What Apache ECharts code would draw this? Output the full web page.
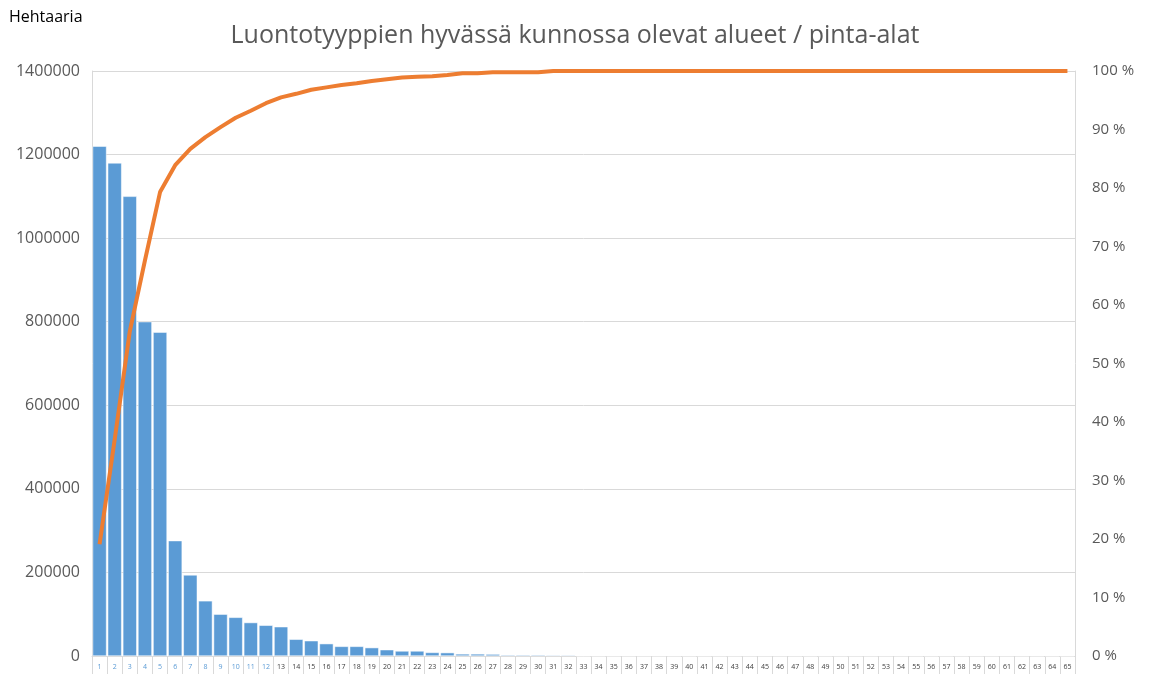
<!DOCTYPE html>
<html>
<head>
<meta charset="utf-8">
<script src="https://cdn.jsdelivr.net/npm/echarts@6/dist/echarts.min.js"></script>
<style>
  html, body { margin: 0; padding: 0; background: #fff; }
  #chart { width: 1150px; height: 675px; }
</style>
</head>
<body>
<div id="chart"></div>
<script>
// luontotyypit 1..65
var categories = []
for (var i = 1; i <= 65; i++) categories.push(String(i))

// pinta-ala hehtaareina (luettu kuvasta)
var areas = [
  1220000, 1180000, 1100000, 800000, 775000, 276000, 194000, 132000, 100000, 92500,
  80000, 73500, 70000, 40000, 36500, 29500, 23000, 23000, 20000, 15000,
  12000, 12000, 8500, 8000, 5000, 5000, 4500, 2500, 2500, 2500,
  2000, 2000, 0, 0, 0, 0, 0, 0, 0, 0,
  0, 0, 0, 0, 0, 0, 0, 0, 0, 0,
  0, 0, 0, 0, 0, 0, 0, 0, 0, 0,
  0, 0, 0, 0, 0
]

// kertymä prosentteina (luettu kuvasta)
var cumulative = [
  19.1, 37.0, 55.5, 67.6, 79.3, 83.9, 86.7, 88.7, 90.4, 92.0,
  93.2, 94.5, 95.5, 96.1, 96.8, 97.2, 97.6, 97.9, 98.3, 98.6,
  98.9, 99.0, 99.1, 99.3, 99.6, 99.6, 99.8, 99.8, 99.8, 99.8,
  100, 100, 100, 100, 100, 100, 100, 100, 100, 100,
  100, 100, 100, 100, 100, 100, 100, 100, 100, 100,
  100, 100, 100, 100, 100, 100, 100, 100, 100, 100,
  100, 100, 100, 100, 100
]

var leftTicks = { min: 0, max: 1400000, interval: 200000 }
var rightTicks = { min: 0, max: 100, interval: 10 }

var myChart = echarts.init(document.getElementById('chart'))
var option = {
  animation: false,
  title: {
    text: 'Luontotyyppien hyvässä kunnossa olevat alueet / pinta-alat',
    left: 'center',
    top: 18,
    textStyle: { fontFamily: 'Open Sans', fontWeight: 'normal', fontSize: 25, color: '#595959' }
  },
  graphic: [{
    type: 'text',
    left: 9,
    top: 9,
    style: { text: 'Hehtaaria', font: '16px "Open Sans"', fill: '#000' }
  }],
  grid: { left: 92, right: 75, top: 71, bottom: 19 },
  xAxis: {
    type: 'category',
    data: categories,
    axisLine: { lineStyle: { color: '#d9d9d9' } },
    axisTick: { show: true, length: 18, alignWithLabel: false, lineStyle: { color: '#d9d9d9' } },
    axisLabel: {
      interval: 0,
      fontSize: 7,
      fontFamily: 'Open Sans',
      margin: 7,
      color: function (value, index) { return index < 12 ? '#5b9bd5' : '#404040' }
    }
  },
  yAxis: [{
    type: 'value',
    min: leftTicks.min,
    max: leftTicks.max,
    interval: leftTicks.interval,
    axisLine: { show: true, lineStyle: { color: '#d9d9d9' } },
    axisLabel: {
      fontFamily: 'Open Sans', fontSize: 16, color: '#595959', margin: 12,
      formatter: function (v) { return String(v) }
    },
    splitLine: { lineStyle: { color: '#d9d9d9' } }
  }, {
    type: 'value',
    min: rightTicks.min,
    max: rightTicks.max,
    interval: rightTicks.interval,
    axisLine: { show: true, lineStyle: { color: '#d9d9d9' } },
    axisLabel: { fontFamily: 'Open Sans', fontSize: 15, color: '#595959', margin: 17, formatter: '{value} %' },
    splitLine: { show: false }
  }],
  series: [{
    name: 'Pinta-ala',
    type: 'bar',
    data: areas,
    barCategoryGap: '8%',
    itemStyle: { color: '#5b9bd5', borderColor: '#ffffff', borderWidth: 0.5 }
  }, {
    name: 'Kertymä',
    type: 'line',
    yAxisIndex: 1,
    data: cumulative,
    showSymbol: false,
    lineStyle: { color: '#ed7d31', width: 4 },
    itemStyle: { color: '#ed7d31' }
  }]
}
myChart.setOption(option)
</script>
</body>
</html>
